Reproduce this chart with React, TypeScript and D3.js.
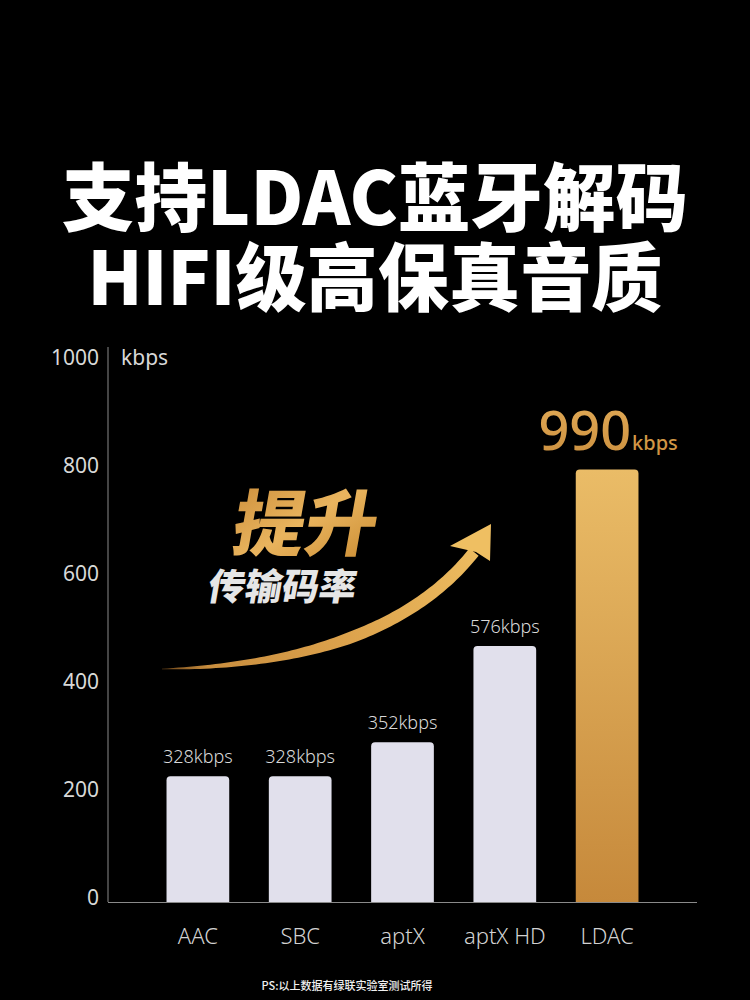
import React, { useEffect } from "react";
import * as d3 from "d3";

const categories = ["AAC", "SBC", "aptX", "aptX HD", "LDAC"];
// bar heights as drawn in the picture (axis units)
const barValues = [233, 233, 296, 474, 801];
const valueLabels = ["328kbps", "328kbps", "352kbps", "576kbps", ""];
const highlightValue = "990";
const highlightUnit = "kbps";
const yTicks = [0, 200, 400, 600, 800, 1000];
const titleLines = ["支持LDAC蓝牙解码", "HIFI级高保真音质"];
const titleWidths = [626, 575];
const boostText = "提升";
const boostSub = "传输码率";
const footnote = "PS:以上数据有绿联实验室测试所得";
const unitLabel = "kbps";

const W = 750;
const H = 1000;
const left = 108;
const right = 697;
const base = 902;
const top1000 = 362;

const latin = "'Noto Sans', Lato, 'DejaVu Sans', sans-serif";
const cjk = "'Noto Sans CJK SC', 'Noto Sans', sans-serif";

function topRoundedBar(x: number, y: number, w: number, h: number, r: number) {
  const p = d3.path();
  p.moveTo(x, y + h);
  p.lineTo(x, y + r);
  p.quadraticCurveTo(x, y, x + r, y);
  p.lineTo(x + w - r, y);
  p.quadraticCurveTo(x + w, y, x + w, y + r);
  p.lineTo(x + w, y + h);
  p.closePath();
  return p.toString();
}

function arrowShaft() {
  const P0 = [162, 669];
  const P1 = [385, 664];
  const P2 = [474, 552];
  const N = 80;
  const L: [number, number][] = [];
  const R: [number, number][] = [];
  for (let i = 0; i <= N; i++) {
    const t = i / N;
    const mt = 1 - t;
    const x = mt * mt * P0[0] + 2 * mt * t * P1[0] + t * t * P2[0];
    const y = mt * mt * P0[1] + 2 * mt * t * P1[1] + t * t * P2[1];
    const dx = 2 * mt * (P1[0] - P0[0]) + 2 * t * (P2[0] - P1[0]);
    const dy = 2 * mt * (P1[1] - P0[1]) + 2 * t * (P2[1] - P1[1]);
    const len = Math.hypot(dx, dy);
    const nx = -dy / len;
    const ny = dx / len;
    const w = (0.3 + 11.5 * Math.pow(Math.min(1, t / 0.5), 0.8)) / 2;
    L.push([x + nx * w, y + ny * w]);
    R.push([x - nx * w, y - ny * w]);
  }
  const pts = L.concat(R.reverse());
  return d3.line()(pts) + "Z";
}

function arrowHead() {
  const pts: [number, number][] = [
    [450, 546],
    [491, 524],
    [490, 561],
    [476, 552],
  ];
  return d3.line()(pts) + "Z";
}

export default function App() {
  useEffect(() => {
    document.body.style.margin = "0";
    document.body.style.background = "#000";
  }, []);

  const x = d3
    .scaleBand<string>()
    .domain(categories)
    .range([left, right])
    .paddingInner(0.387)
    .paddingOuter(0.572);
  const y = d3.scaleLinear().domain([0, 1000]).range([base, top1000]);
  const bw = x.bandwidth();

  return (
    <svg width={W} height={H} style={{ display: "block", background: "#000" }}>
      <defs>
        <linearGradient id="gold" x1="0" y1="0" x2="0" y2="1">
          <stop offset="0" stopColor="#eabc67" />
          <stop offset="1" stopColor="#c6893b" />
        </linearGradient>
        <linearGradient id="goldText" x1="0" y1="0" x2="0" y2="1">
          <stop offset="0" stopColor="#e4ad5a" />
          <stop offset="1" stopColor="#c98d3c" />
        </linearGradient>
        <linearGradient id="boost" x1="0" y1="0" x2="1" y2="1">
          <stop offset="0" stopColor="#c98b38" />
          <stop offset="0.5" stopColor="#e9b45e" />
          <stop offset="1" stopColor="#c8892f" />
        </linearGradient>
        <linearGradient id="arrowGrad" gradientUnits="userSpaceOnUse" x1="162" y1="669" x2="490" y2="525">
          <stop offset="0" stopColor="#6a4318" />
          <stop offset="0.12" stopColor="#c88d3e" />
          <stop offset="0.5" stopColor="#dca24c" />
          <stop offset="1" stopColor="#efbf62" />
        </linearGradient>
      </defs>
      <rect x={0} y={0} width={W} height={H} fill="#000" />

      {titleLines.map((t, i) => (
        <text
          key={t}
          x={W / 2}
          y={192 + i * 80}
          textAnchor="middle"
          dominantBaseline="central"
          fill="#fff"
          fontFamily={cjk}
          fontWeight={900}
          fontSize={74}
          textLength={titleWidths[i]}
          lengthAdjust="spacingAndGlyphs"
        >
          {t}
        </text>
      ))}

      {/* axes */}
      <line x1={left} x2={left} y1={347} y2={base} stroke="#8a8a8a" strokeWidth={1} />
      <line x1={left} x2={right} y1={base + 0.5} y2={base + 0.5} stroke="#8a8a8a" strokeWidth={1} />
      {yTicks.map((v) => (
        <text
          key={v}
          x={99}
          y={y(v) - 5}
          textAnchor="end"
          dominantBaseline="central"
          fill="#d8d8d8"
          fontFamily={latin}
          fontWeight={400}
          fontSize={21}
        >
          {v}
        </text>
      ))}
      <text
        x={121}
        y={357}
        dominantBaseline="central"
        fill="#d8d8d8"
        fontFamily={latin}
        fontWeight={400}
        fontSize={21}
      >
        {unitLabel}
      </text>

      {/* arrow and boost text */}
      <path d={arrowShaft()} fill="url(#arrowGrad)" />
      <path d={arrowHead()} fill="#efbf62" />
      <text
        x={307}
        y={519}
        textAnchor="middle"
        dominantBaseline="central"
        fill="url(#boost)"
        fontFamily={cjk}
        fontWeight={900}
        fontSize={72}
        transform="translate(307,519) skewX(-10) translate(-307,-519)"
      >
        {boostText}
      </text>
      <text
        x={283}
        y={584}
        textAnchor="middle"
        dominantBaseline="central"
        fill="#e6e6e6"
        fontFamily={cjk}
        fontWeight={800}
        fontSize={37}
        transform="translate(283,584) skewX(-10) translate(-283,-584)"
      >
        {boostSub}
      </text>

      {/* bars */}
      {categories.map((c, i) => {
        const bx = x(c) as number;
        const by = y(barValues[i]);
        const isLast = i === categories.length - 1;
        return (
          <g key={c}>
            <path
              d={topRoundedBar(bx, by, bw, base - by, 4)}
              fill={isLast ? "url(#gold)" : "#e1e0ec"}
            />
            {valueLabels[i] && (
              <text
                x={bx + bw / 2}
                y={by - 20}
                textAnchor="middle"
                dominantBaseline="central"
                fill="#d9d9d9"
                fontFamily={latin}
                fontWeight={300}
                fontSize={18}
              >
                {valueLabels[i]}
              </text>
            )}
            <text
              x={bx + bw / 2}
              y={935}
              textAnchor="middle"
              dominantBaseline="central"
              fill="#d2d2d2"
              fontFamily={latin}
              fontWeight={300}
              fontSize={22}
            >
              {c}
            </text>
          </g>
        );
      })}

      {/* highlight label */}
      <text
        x={(x("LDAC") as number) + bw / 2 + 1}
        y={450}
        textAnchor="middle"
        fill="url(#goldText)"
        fontFamily={latin}
        fontWeight={500}
      >
        <tspan fontSize={54}>{highlightValue}</tspan>
        <tspan fontSize={20} dx={1}>{highlightUnit}</tspan>
      </text>

      <text
        x={347}
        y={985}
        textAnchor="middle"
        dominantBaseline="central"
        fill="#f0f0f0"
        fontFamily={cjk}
        fontWeight={500}
        fontSize={11}
      >
        {footnote}
      </text>
    </svg>
  );
}
